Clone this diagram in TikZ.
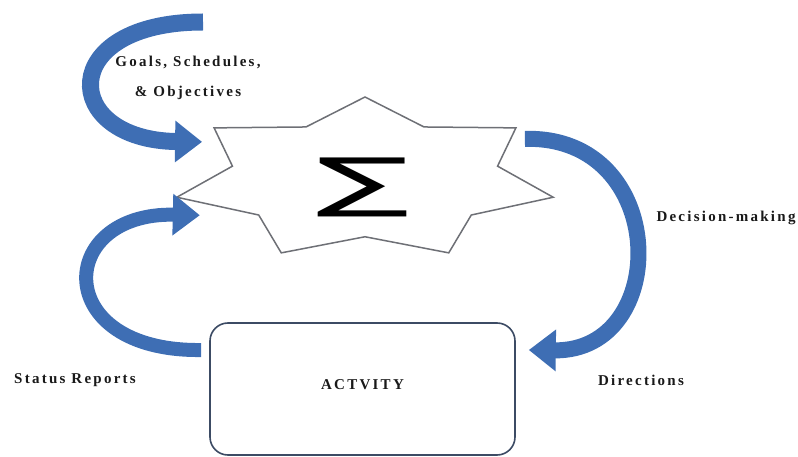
\documentclass[tikz,border=0pt]{standalone}
\usepackage{fontspec}
\setmainfont{Liberation Serif}
\newfontfamily\labelfont[LetterSpace=15]{Liberation Serif}
\newfontfamily\sigmafont{DejaVu Sans}
\usetikzlibrary{arrows.meta,positioning,shapes.geometric}
\definecolor{arrowblue}{RGB}{62,110,180}
\definecolor{starline}{RGB}{110,112,118}
\definecolor{boxline}{RGB}{60,75,100}

\begin{document}
\begin{tikzpicture}[x=1pt,y=-1pt,
lbl/.style={font=\labelfont\bfseries\fontsize{15}{30}\selectfont,text=black!90,inner sep=0pt,align=center},
sumstar/.style={draw=starline,line width=1.5pt,fill=white,star,star points=7,star point ratio=1.42,minimum size=164pt,inner sep=0pt,outer sep=0pt,xscale=2.354,transform shape},
actbox/.style={draw=boxline,line width=1.6pt,rounded corners=18pt,minimum width=305pt,minimum height=132pt,inner sep=0pt,font=\labelfont\bfseries\fontsize{15}{17}\selectfont,text=black!90},
curvearrow/.style={arrowblue,line cap=butt,-{Triangle[length=27pt,width=40pt]}}]
\useasboundingbox (0,0) rectangle (798,457);
% summing star and activity
\begin{scope}[shift={(365,179)}]
\node[sumstar] (star) at (0,0) {};
\end{scope}
\node[inner sep=0pt] (sigma) at ([xshift=-1.5pt,yshift=-8.5pt]star.center) {\resizebox*{93pt}{59pt}{\sigmafont ∑}};
\node[actbox] (activity) at (362.5,389) {\raisebox{9pt}{ACTVITY}\hspace{9pt}};
% labels
\node[lbl] (goals) at (188,78) {Goals, Schedules,\\\& Objectives};
\node[lbl] (decision) at (726,218) {Decision-making};
\node[lbl] (directions) at (641,380) {Directions};
\node[lbl] (status) at (75,380) {Status Reports};
% feedback loop
\coordinate (goalsfrom) at (203,22);
\draw[curvearrow,line width=17pt] (goalsfrom) .. controls (55,22) and (60,140) .. ([xshift=-12pt,yshift=-14pt]star.outer point 2);
\draw[curvearrow,line width=16pt] ([xshift=9pt,yshift=-11pt]star.outer point 7) .. controls (670,135) and (672,352) .. ([xshift=13pt,yshift=39pt]activity.east);
\draw[curvearrow,line width=14pt] ([xshift=-8pt,yshift=39pt]activity.west) .. controls (50,352) and (55,212) .. ([xshift=23pt,yshift=-18pt]star.outer point 3);
\end{tikzpicture}
\end{document}
